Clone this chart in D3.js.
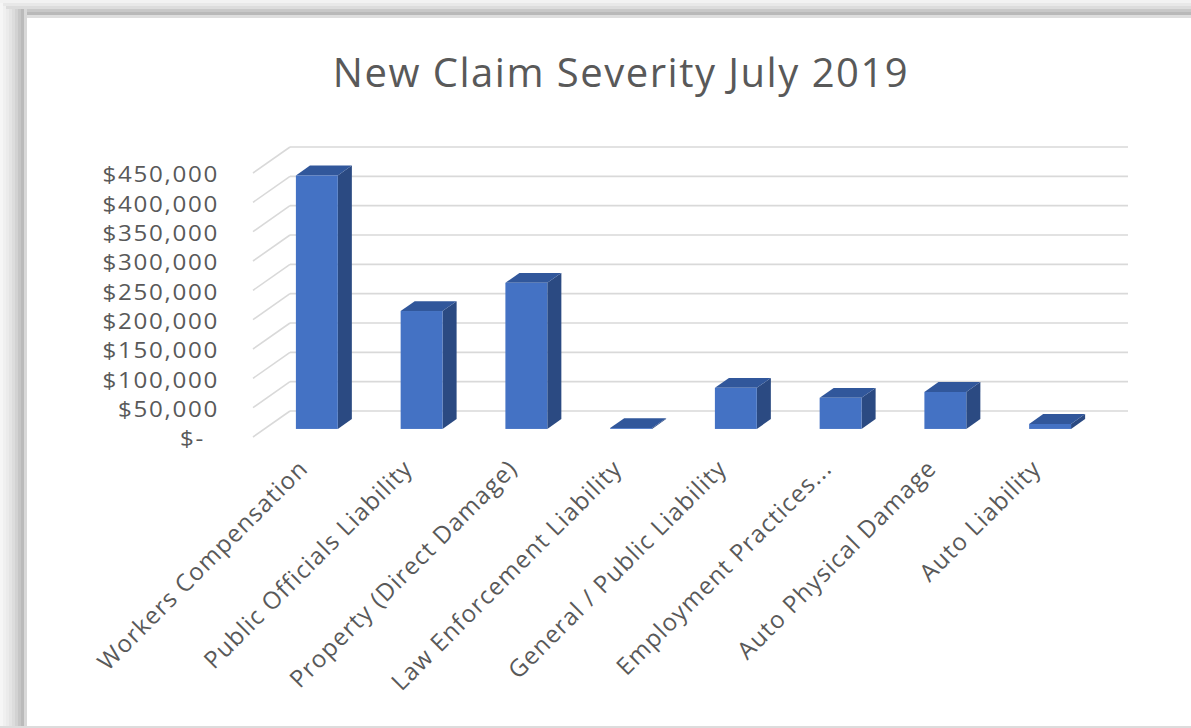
<!DOCTYPE html>
<html>
<head>
<meta charset="utf-8">
<script src="https://cdn.jsdelivr.net/npm/d3@7"></script>
<style>
  body { margin: 0; background: #fff; }
  svg { display: block; font-family: "Open Sans", "Noto Sans", sans-serif; }
</style>
</head>
<body>
<div id="chart"></div>
<script>
// data
var categories = ["Workers Compensation", "Public Officials Liability", "Property (Direct Damage)",
    "Law Enforcement Liability", "General / Public Liability", "Employment Practices...",
    "Auto Physical Damage", "Auto Liability"];
var severity = [432000, 201000, 249000, 1500, 70000, 53000, 63000, 8500];
var yTicks = [0, 50000, 100000, 150000, 200000, 250000, 300000, 350000, 400000, 450000];
var chartTitle = "New Claim Severity July 2019";

var width = 1191, height = 728;

var svg = d3.select("#chart").append("svg")
    .attr("width", width)
    .attr("height", height);

// frame / shadow of the screenshot
var frame = svg.append("g").attr("class", "frame");
var shades = ["#f6f6f6", "#f0f0f0", "#ebebeb", "#e4e4e4", "#dcdcdc", "#d2d2d2", "#c6c6c6", "#bababa", "#d8d8d8"];
shades.forEach(function(c, i) {
    frame.append("rect").attr("x", i * 3).attr("y", 0).attr("width", 3).attr("height", height).attr("fill", c);
});
var shadesTop = ["#f2f2f2", "#e8e8e8", "#dcdcdc", "#c8c8c8", "#b9b9b9", "#dedede"];
shadesTop.forEach(function(c, i) {
    frame.append("rect").attr("x", 27 - (i < 3 ? 27 - i * 3 : 0)).attr("y", i * 3)
        .attr("width", width).attr("height", 3).attr("fill", c);
});
frame.append("rect").attr("x", 27).attr("y", 18).attr("width", width - 27).attr("height", 708).attr("fill", "#fff");
frame.append("rect").attr("x", 0).attr("y", 726).attr("width", width).attr("height", 2).attr("fill", "#dcdcdc");

// title
svg.append("text")
    .attr("x", 621).attr("y", 87)
    .attr("text-anchor", "middle")
    .attr("font-size", "40px")
    .attr("letter-spacing", "1.5px")
    .attr("fill", "#595959")
    .text(chartTitle);

// 3D geometry: back wall + depth vector
var back = {left: 290, right: 1128};
var depth = {dx: -37, dy: 26};     // back wall -> front of floor
var barFront = 0.69, barBack = 0.31;  // fraction of depth

var x = d3.scaleBand()
    .domain(categories)
    .range([back.left, back.right])
    .paddingInner(0.6)
    .paddingOuter(0.3);

var y = d3.scaleLinear()
    .domain([0, 450000])
    .range([411, 147]);

var fmt = d3.format("$,");

// gridlines: back wall + left floor diagonal
var grid = svg.append("g").attr("class", "grid");
grid.selectAll("line.h").data(yTicks).enter().append("line")
    .attr("class", "h")
    .attr("x1", back.left).attr("x2", back.right)
    .attr("y1", function(d) { return y(d); }).attr("y2", function(d) { return y(d); })
    .attr("stroke", "#d9d9d9").attr("stroke-width", 1.6);
grid.selectAll("line.d").data(yTicks).enter().append("line")
    .attr("class", "d")
    .attr("x1", back.left).attr("x2", back.left + depth.dx)
    .attr("y1", function(d) { return y(d); }).attr("y2", function(d) { return y(d) + depth.dy; })
    .attr("stroke", "#d9d9d9").attr("stroke-width", 1.6);

// y labels (a little wide, like the original)
svg.append("g").selectAll("text").data(yTicks).enter().append("text")
    .attr("transform", function(d) {
        return "translate(" + (d === 0 ? 205 : 219) + "," + (y(d) + depth.dy + 2) + ") scale(1.15,1)";
    })
    .attr("dy", "0.35em")
    .attr("text-anchor", "end")
    .attr("font-size", "21px")
    .attr("letter-spacing", "1.5px")
    .attr("fill", "#595959")
    .text(function(d) { return d === 0 ? "$-" : fmt(d); });

// bars
var fx = depth.dx * barFront, fy = depth.dy * barFront;
var bx = depth.dx * barBack, by = depth.dy * barBack;
var ox = bx - fx, oy = by - fy;   // front face -> back face offset

var bars = svg.append("g").selectAll("g.bar")
    .data(categories.map(function(c, i) { return {cat: c, v: severity[i]}; }))
    .enter().append("g").attr("class", "bar");

function pts(a) { return a.map(function(p) { return p.join(","); }).join(" "); }

bars.each(function(d) {
    var g = d3.select(this);
    var x0 = x(d.cat) + fx, x1 = x0 + x.bandwidth();
    var yb = y(0) + fy, yt = y(d.v) + fy;
    // side
    g.append("polygon")
        .attr("points", pts([[x1, yb], [x1 + ox, yb + oy], [x1 + ox, yt + oy], [x1, yt]]))
        .attr("fill", "#2b4a82");
    // top
    g.append("polygon")
        .attr("points", pts([[x0, yt], [x1, yt], [x1 + ox, yt + oy], [x0 + ox, yt + oy]]))
        .attr("fill", "#31579b");
    // front
    g.append("rect")
        .attr("x", x0).attr("y", yt)
        .attr("width", x.bandwidth()).attr("height", yb - yt)
        .attr("fill", "#4472c4");
});

// category labels
svg.append("g").selectAll("text").data(categories).enter().append("text")
    .attr("transform", function(d) {
        var cx = x(d) + x.bandwidth() / 2 + depth.dx;
        return "translate(" + (cx + 4) + "," + 470 + ") rotate(-45)";
    })
    .attr("text-anchor", "end")
    .attr("font-size", "24px")
    .attr("letter-spacing", "1.1px")
    .attr("fill", "#595959")
    .text(function(d) { return d; });
</script>
</body>
</html>
